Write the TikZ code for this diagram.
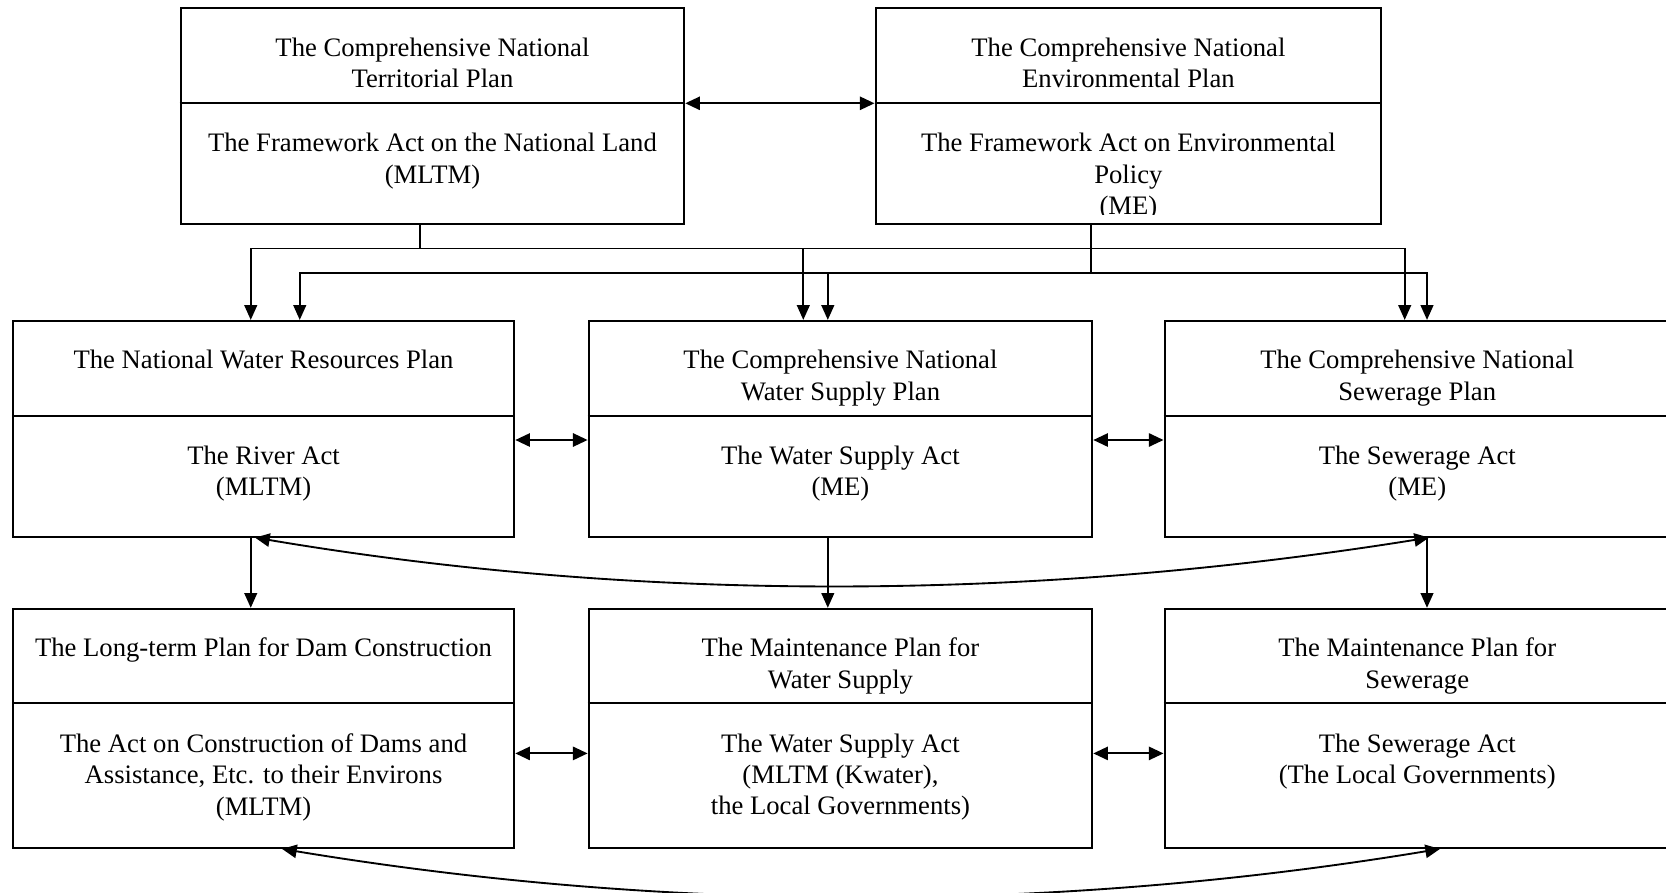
\documentclass[tikz,border=0pt]{standalone}
\usepackage{fontspec}
\setmainfont{Liberation Serif}
\usetikzlibrary{positioning, arrows.meta, fit, calc}

\tikzset{
  planbox/.style={draw, line width=1.5pt, inner sep=0pt},
  divline/.style={line width=1.5pt},
  txt/.style={font=\fontsize{20}{23.6}\selectfont, align=center, inner sep=0pt},
  link/.style={line width=1.3pt, -{Triangle[length=11pt,width=9.5pt]}},
  dbl/.style={line width=1.4pt,
    {Triangle[length=11pt,width=10pt]}-{Triangle[length=11pt,width=10pt]}},
}

\begin{document}
\begin{tikzpicture}[x=0.75pt, y=-0.75pt]
  \useasboundingbox (0,0) rectangle (1666,892);

  % national plans
  \node[planbox, fit={(180.6,8.5) (684.3,224.2)}] (terr) {};
  \node[planbox, fit={(875.5,8.5) (1381.3,224.2)}] (envr) {};
  \coordinate (terr-div) at ($(terr.north)+(0,95.8)$);
  \coordinate (envr-div) at ($(envr.north)+(0,95.8)$);
  \draw[divline] (terr.west |- terr-div) -- (terr.east |- terr-div);
  \draw[divline] (envr.west |- envr-div) -- (envr.east |- envr-div);
  \node[txt, below=22.4pt of terr.north] (terr-plan) {The Comprehensive National\\Territorial Plan};
  \node[txt, below=22.4pt of terr-div] (terr-act) {The Framework Act on the National Land\\(MLTM)};
  \node[txt, below=22.4pt of envr.north] (envr-plan) {The Comprehensive National\\Environmental Plan};
  \begin{scope}
    \clip (envr.north west) rectangle ($(envr.south east)+(0,-11)$);
    \node[txt, below=22.4pt of envr-div] (envr-act) {The Framework Act on Environmental\\Policy\\(ME)};
  \end{scope}

  % sector plans
  \node[planbox, fit={(12.75,320.9) (514.3,536.6)}] (rivr) {};
  \node[planbox, fit={(588.6,320.9) (1092.3,536.6)}] (wsup) {};
  \node[planbox, fit={(1164.5,320.9) (1670,536.6)}] (sewr) {};
  \coordinate (rivr-div) at ($(rivr.north)+(0,95.6)$);
  \coordinate (wsup-div) at ($(wsup.north)+(0,95.6)$);
  \coordinate (sewr-div) at ($(sewr.north)+(0,95.6)$);
  \draw[divline] (rivr.west |- rivr-div) -- (rivr.east |- rivr-div);
  \draw[divline] (wsup.west |- wsup-div) -- (wsup.east |- wsup-div);
  \draw[divline] (sewr.west |- sewr-div) -- (sewr.east |- sewr-div);
  \node[txt, below=22.4pt of rivr.north] (rivr-plan) {The National Water Resources Plan};
  \node[txt, below=22.4pt of rivr-div] (rivr-act) {The River Act\\(MLTM)};
  \node[txt, below=22.4pt of wsup.north] (wsup-plan) {The Comprehensive National\\Water Supply Plan};
  \node[txt, below=22.4pt of wsup-div] (wsup-act) {The Water Supply Act\\(ME)};
  \node[txt, below=22.4pt of sewr.north] (sewr-plan) {The Comprehensive National\\Sewerage Plan};
  \node[txt, below=22.4pt of sewr-div] (sewr-act) {The Sewerage Act\\(ME)};

  % implementation plans
  \node[planbox, fit={(12.75,608.8) (514.3,847.9)}] (dam) {};
  \node[planbox, fit={(588.6,608.8) (1092.3,847.9)}] (wmnt) {};
  \node[planbox, fit={(1164.5,608.8) (1670,847.9)}] (smnt) {};
  \coordinate (dam-div) at ($(dam.north)+(0,95.6)$);
  \coordinate (wmnt-div) at ($(wmnt.north)+(0,95.6)$);
  \coordinate (smnt-div) at ($(smnt.north)+(0,95.6)$);
  \draw[divline] (dam.west |- dam-div) -- (dam.east |- dam-div);
  \draw[divline] (wmnt.west |- wmnt-div) -- (wmnt.east |- wmnt-div);
  \draw[divline] (smnt.west |- smnt-div) -- (smnt.east |- smnt-div);
  \node[txt, below=22.4pt of dam.north] (dam-plan) {The Long-term Plan for Dam Construction};
  \node[txt, below=22.4pt of dam-div] (dam-act) {The Act on Construction of Dams and\\Assistance, Etc. to their Environs\\(MLTM)};
  \node[txt, below=22.4pt of wmnt.north] (wmnt-plan) {The Maintenance Plan for\\Water Supply};
  \node[txt, below=22.4pt of wmnt-div] (wmnt-act) {The Water Supply Act\\(MLTM (Kwater),\\the Local Governments)};
  \node[txt, below=22.4pt of smnt.north] (smnt-plan) {The Maintenance Plan for\\Sewerage};
  \node[txt, below=22.4pt of smnt-div] (smnt-act) {The Sewerage Act\\(The Local Governments)};

  % national -> sector buses
  \coordinate (busA) at ($(terr.south west)+(240.2,23.4)$);
  \coordinate (busB) at ($(envr.south west)+(216.8,47.8)$);
  \draw[line width=1.3pt] (busA |- terr.south) -- (busA);
  \draw[line width=1.3pt] (busB |- envr.south) -- (busB);
  \draw[link] (busA) -| ($(rivr.north west)+(239,0)$);
  \draw[link] (busA) -| ($(wsup.north west)+(215.7,0)$);
  \draw[link] (busA) -| ($(sewr.north west)+(241.2,0)$);
  \draw[link] (busB) -| ($(rivr.north west)+(288,0)$);
  \draw[link] (busB) -| ($(wsup.north west)+(240.2,0)$);
  \draw[link] (busB) -| ($(sewr.north west)+(263.5,0)$);

  % sector -> implementation
  \draw[link] ($(rivr.south west)+(239,0)$) -- ($(dam.north west)+(239,0)$);
  \draw[link] ($(wsup.south west)+(240.2,0)$) -- ($(wmnt.north west)+(240.2,0)$);
  \draw[link] ($(sewr.south west)+(263.5,0)$) -- ($(smnt.north west)+(263.5,0)$);

  % mutual links
  \draw[dbl] (terr.east |- terr-div) -- (envr.west |- envr-div);
  \draw[dbl] ($(rivr.north east)+(0,120.1)$) -- ($(wsup.north west)+(0,120.1)$);
  \draw[dbl] ($(wsup.north east)+(0,120.1)$) -- ($(sewr.north west)+(0,120.1)$);
  \draw[dbl] ($(dam.north east)+(0,145.6)$) -- ($(wmnt.north west)+(0,145.6)$);
  \draw[dbl] ($(wmnt.north east)+(0,145.6)$) -- ($(smnt.north west)+(0,145.6)$);
  \draw[dbl] ($(rivr.south west)+(243.3,0)$)
    .. controls ($(wsup.south west)+(48.4,64.4)$) and ($(wsup.south west)+(440.1,64.4)$)
    .. ($(sewr.south west)+(265.5,0)$);
  \draw[dbl] ($(dam.south west)+(270.3,0)$)
    .. controls ($(wmnt.south west)+(80.4,64)$) and ($(wmnt.south west)+(466.4,64)$)
    .. ($(smnt.south west)+(276.5,0)$);
\end{tikzpicture}
\end{document}
